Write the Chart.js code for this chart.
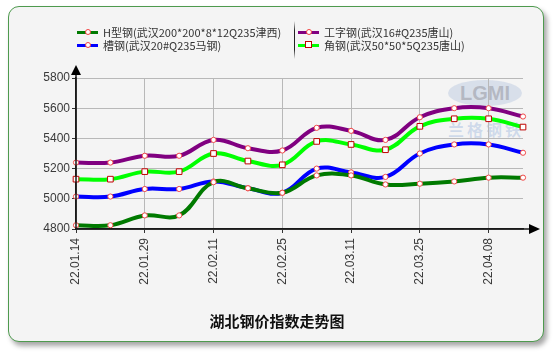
<!DOCTYPE html>
<html>
<head>
<meta charset="utf-8">
<script src="https://cdn.jsdelivr.net/npm/chart.js@4"></script>
<style>
    body { margin: 0; background: #fff; font-family: "Noto Sans CJK SC", "Liberation Sans", sans-serif; }
    #wrap { position: relative; width: 554px; height: 352px; overflow: hidden; }
    #card {
        position: absolute; left: 8px; top: 6px; width: 534px; height: 334px;
        background: #f4f4f4; border: 1px solid #4e9a4e; border-radius: 11px;
        box-shadow: 3px 4px 5px rgba(0, 0, 0, 0.35);
    }
    #grafico { position: absolute; left: 0; top: 0; }
    .legenda_item { position: absolute; height: 13px; font-size: 11px; line-height: 13px; color: #333; white-space: nowrap; }
    .legenda_linha { position: absolute; left: 0; top: 5px; width: 21px; height: 3px; }
    .legenda_marca { position: absolute; left: 8px; top: 3px; width: 4px; height: 4px; border: 1px solid #f04040; border-radius: 50%; background: #fff; }
    .legenda_marca.quadrado { left: 7px; top: 2px; width: 5px; height: 5px; border-color: #c00000; border-radius: 0; }
    .legenda_txt { position: absolute; left: 26px; top: 0; }
    #separador { position: absolute; left: 294px; top: 21px; width: 1px; height: 38px;
        background: linear-gradient(to bottom, rgba(0,0,0,0), #222 25%, #222 75%, rgba(0,0,0,0)); }
    #titulo { position: absolute; left: 0; width: 554px; top: 310px; text-align: center; font-size: 15px; font-weight: bold; color: #111; }
    #logo { position: absolute; left: 448px; top: 80px; width: 74px; height: 26px; border-radius: 50%;
        background: rgba(120, 150, 200, 0.22); color: rgba(150, 150, 160, 0.55); font: bold 20px "Liberation Sans", sans-serif;
        text-align: center; line-height: 26px; }
    #logo_txt { position: absolute; left: 448px; top: 117px; width: 76px; text-align: center; font-size: 16px; font-weight: bold;
        letter-spacing: 3px; color: rgba(110, 150, 210, 0.28); }
</style>
</head>
<body>
<div id="wrap">
    <div id="card"></div>
    <div id="logo">LGMI</div>
    <div id="logo_txt">兰格钢铁</div>
    <canvas id="grafico" width="554" height="352"></canvas>
    <div id="legenda"></div>
    <div id="separador"></div>
    <div id="titulo">湖北钢价指数走势图</div>
</div>
<script>
var datas = ['22.01.14', '22.01.21', '22.01.29', '22.02.04', '22.02.11', '22.02.18', '22.02.25',
    '22.03.04', '22.03.11', '22.03.18', '22.03.25', '22.04.01', '22.04.08', '22.04.15'];

var h_aco = [4825, 4825, 4890, 4890, 5110, 5070, 5040, 5155, 5155, 5095, 5100, 5115, 5140, 5140];
var i_aco = [5240, 5240, 5285, 5285, 5390, 5335, 5320, 5470, 5450, 5390, 5540, 5600, 5600, 5545];
var canal = [5015, 5015, 5065, 5065, 5115, 5070, 5040, 5200, 5175, 5145, 5300, 5360, 5360, 5305];
var angulo = [5130, 5130, 5180, 5180, 5300, 5250, 5225, 5380, 5360, 5325, 5480, 5530, 5530, 5475];

var nomes = ['H型钢(武汉200*200*8*12Q235津西)', '工字钢(武汉16#Q235唐山)', '槽钢(武汉20#Q235马钢)', '角钢(武汉50*50*5Q235唐山)'];
var cores = ['#007a00', '#800080', '#0000ff', '#00ff00'];

var y_min = 4800;
var y_max = 5800;
var y_passo = 200;

function serie(i, valores, quadrado) {
    return {
        label: nomes[i],
        data: valores,
        borderColor: cores[i],
        borderWidth: 4,
        tension: 0.4,
        fill: false,
        clip: false,
        pointStyle: quadrado ? 'rect' : 'circle',
        pointRadius: quadrado ? 4 : 2.6,
        pointBorderWidth: 1,
        pointBorderColor: quadrado ? '#c00000' : '#f04848',
        pointBackgroundColor: '#ffffff'
    };
}

// legenda em html (duas colunas)
var posicoes = [[77, 26], [298, 26], [77, 39], [298, 39]];
var legenda = document.getElementById('legenda');
for (var i = 0; i < nomes.length; i++) {
    legenda.innerHTML += `
        <div class="legenda_item" style="left:${posicoes[i][0]}px; top:${posicoes[i][1]}px">
            <div class="legenda_linha" style="background:${cores[i]}"></div>
            <div class="legenda_marca${i == 3 ? ' quadrado' : ''}"></div>
            <div class="legenda_txt">${nomes[i]}</div>
        </div>
    `;
}

// setas nos eixos
var setas = {
    id: 'setas',
    afterDraw(chart) {
        var ctx = chart.ctx;
        var a = chart.chartArea;
        ctx.save();
        ctx.strokeStyle = '#1a1a1a';
        ctx.fillStyle = '#000';
        ctx.lineWidth = 1.5;
        ctx.beginPath();
        ctx.moveTo(a.left, a.bottom);
        ctx.lineTo(a.right + 6, a.bottom);
        ctx.moveTo(a.left, a.bottom);
        ctx.lineTo(a.left, a.top - 4);
        ctx.stroke();
        ctx.beginPath();
        ctx.moveTo(a.right + 17, a.bottom);
        ctx.lineTo(a.right + 6, a.bottom - 5);
        ctx.lineTo(a.right + 6, a.bottom + 5);
        ctx.closePath();
        ctx.fill();
        ctx.beginPath();
        ctx.moveTo(a.left, a.top - 13);
        ctx.lineTo(a.left - 5, a.top - 3);
        ctx.lineTo(a.left + 5, a.top - 3);
        ctx.closePath();
        ctx.fill();
        ctx.restore();
    }
};

var grade = '#b8b8b8';

new Chart(document.getElementById('grafico'), {
    type: 'line',
    data: {
        labels: datas,
        datasets: [
            serie(3, angulo, true),
            serie(1, i_aco, false),
            serie(0, h_aco, false),
            serie(2, canal, false)
        ]
    },
    options: {
        responsive: false,
        animation: false,
        layout: { padding: { top: 78, left: 0, right: 31, bottom: 0 } },
        plugins: {
            legend: { display: false },
            tooltip: { enabled: false }
        },
        scales: {
            x: {
                offset: false,
                afterFit: (s) => { s.height = 123; },
                border: { display: true, color: '#1a1a1a', width: 1.5 },
                grid: {
                    color: (c) => (c.index % 2 == 0 ? grade : 'rgba(0,0,0,0)'),
                    tickColor: (c) => (c.index % 2 == 0 ? '#333' : 'rgba(0,0,0,0)'),
                    borderDash: [1, 2],
                    tickBorderDash: [],
                    tickLength: 4
                },
                ticks: {
                    autoSkip: false,
                    minRotation: 90,
                    maxRotation: 90,
                    padding: 5,
                    color: '#3a3a3a',
                    font: { family: 'Liberation Sans', size: 12 },
                    callback: function (v, i) { return i % 2 == 0 ? datas[i] : ''; }
                }
            },
            y: {
                min: y_min,
                max: y_max,
                afterFit: (s) => { s.width = 76; },
                border: { display: true, color: '#1a1a1a', width: 1.5 },
                grid: {
                    color: grade,
                    tickColor: '#333',
                    borderDash: [1, 2],
                    tickBorderDash: [],
                    tickLength: 4
                },
                ticks: {
                    stepSize: y_passo,
                    padding: 2,
                    color: '#3a3a3a',
                    font: { family: 'Liberation Sans', size: 12 },
                    callback: function (v) { return String(v); }
                }
            }
        }
    },
    plugins: [setas]
});
</script>
</body>
</html>
